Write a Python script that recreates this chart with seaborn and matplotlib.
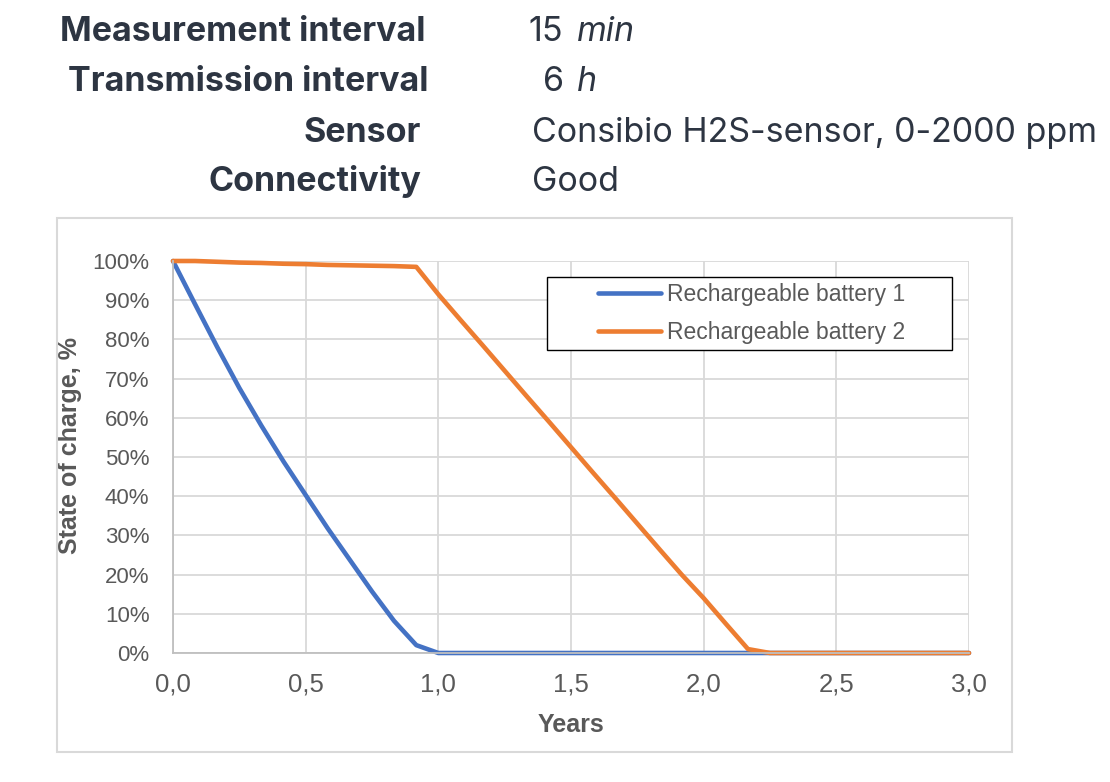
import numpy as np
import pandas as pd
import seaborn as sns
import matplotlib
matplotlib.use("Agg")
from matplotlib import pyplot as plt
from matplotlib.patches import Rectangle
from matplotlib.ticker import FuncFormatter, MultipleLocator

# header table
HEADER_LABELS = ["Measurement interval", "Transmission interval", "Sensor", "Connectivity"]
HEADER_VALUES = ["15", "6", "Consibio H2S-sensor, 0-2000 ppm", "Good"]
HEADER_UNITS = ["min", "h", "", ""]

# state of charge (%) against time (years)
YEARS_1 = [0.0, 0.083, 0.167, 0.25, 0.333, 0.417, 0.5, 0.583, 0.667, 0.75, 0.833, 0.917, 1.0,
           1.5, 2.0, 2.5, 3.0]
SOC_1 = [100, 89, 78, 67.6, 58, 48.8, 40.3, 31.8, 23.7, 15.7, 8.2, 2, 0,
         0, 0, 0, 0]

YEARS_2 = [0.0, 0.083, 0.167, 0.25, 0.333, 0.417, 0.5, 0.583, 0.667, 0.75, 0.833, 0.917,
           1.0, 1.083, 1.167, 1.25, 1.333, 1.417, 1.5, 1.583, 1.667, 1.75, 1.833, 1.917,
           2.0, 2.083, 2.167, 2.25, 2.5, 2.75, 3.0]
SOC_2 = [100, 100, 99.8, 99.6, 99.5, 99.3, 99.2, 99.0, 98.9, 98.8, 98.7, 98.5,
         91.5, 85, 78.5, 72, 65.5, 59, 52.5, 46, 39.5, 33, 26.5, 20,
         14, 7.5, 1, 0, 0, 0, 0]

SERIES = ["Rechargeable battery 1", "Rechargeable battery 2"]
COLORS = ["#4472C4", "#ED7D31"]

df = pd.concat([
    pd.DataFrame({"years": YEARS_1, "soc": SOC_1, "series": SERIES[0]}),
    pd.DataFrame({"years": YEARS_2, "soc": SOC_2, "series": SERIES[1]}),
])

sns.set_style("white")
plt.rcParams["font.family"] = ["Liberation Sans", "DejaVu Sans"]

W, H = 1110, 782
fig = plt.figure(figsize=(W / 100, H / 100), dpi=100)

# header block
HEAD_COLOR = "#2d3542"
HEAD_FONT = ["Inter", "DejaVu Sans"]
baselines = [41, 91, 142, 191]
label_right = [426, 429, 421, 421]
value_left = [528, 543, 532, 532]
for lab, val, unit, b, r, v in zip(HEADER_LABELS, HEADER_VALUES, HEADER_UNITS,
                                   baselines, label_right, value_left):
    y = 1 - b / H
    fig.text(r / W, y, lab, ha="right", va="baseline", fontsize=24.5,
             fontweight="bold", color=HEAD_COLOR, family=HEAD_FONT)
    fig.text(v / W, y, val, ha="left", va="baseline", fontsize=24.5,
             color=HEAD_COLOR, family=HEAD_FONT)
    if unit:
        fig.text(577 / W, y, unit, ha="left", va="baseline", fontsize=24.5,
                 style="italic", color=HEAD_COLOR, family=HEAD_FONT)

# chart border
fig.patches.append(Rectangle((57 / W, 1 - 752 / H), (1012 - 57) / W, (752 - 218) / H,
                             transform=fig.transFigure, fill=False,
                             edgecolor="#d9d9d9", linewidth=1.5))

ax = fig.add_axes([173 / W, 1 - 653 / H, (969 - 173) / W, (653 - 261) / H])
sns.lineplot(data=df, x="years", y="soc", hue="series", palette=COLORS,
             linewidth=3.3, ax=ax, clip_on=False, legend=False)

ax.set_xlim(0, 3)
ax.set_ylim(0, 100)
ax.xaxis.set_major_locator(MultipleLocator(0.5))
ax.yaxis.set_major_locator(MultipleLocator(10))
ax.xaxis.set_major_formatter(FuncFormatter(lambda v, p: f"{v:.1f}".replace(".", ",")))
ax.yaxis.set_major_formatter(FuncFormatter(lambda v, p: f"{v:.0f}%"))
ax.grid(True, color="#d9d9d9", linewidth=1.3)
ax.set_axisbelow(True)
for s in ["top", "right"]:
    ax.spines[s].set_visible(False)
for s in ["left", "bottom"]:
    ax.spines[s].set_color("#bfbfbf")
    ax.spines[s].set_linewidth(1.3)
ax.tick_params(axis="y", length=0, labelsize=16, colors="#595959", pad=17)
ax.tick_params(axis="x", length=0, labelsize=18.5, colors="#595959", pad=14)

ax.set_xlabel("Years", fontsize=18, fontweight="bold", color="#595959")
ax.xaxis.label.set(va="center")
ax.xaxis.set_label_coords(0.5, (653 - 725) / 392)
ax.set_ylabel("State of charge, %", fontsize=18, fontweight="bold", color="#595959")
ax.yaxis.label.set(va="center", ha="center", rotation_mode="default")
ax.yaxis.set_label_coords((70 - 173) / 796, (653 - 446) / 392)

# legend: Excel-style box drawn separately, entries without frame
handles = [plt.Line2D([], [], color=c, linewidth=3.3) for c in COLORS]
leg = fig.legend(handles, SERIES, loc="center left",
                 bbox_to_anchor=(598 / W, 1 - 313.5 / H), frameon=False,
                 fontsize=16.5, handlelength=2.75, handletextpad=0.28,
                 labelspacing=0.62, borderpad=0, borderaxespad=0)
for t in leg.get_texts():
    t.set_color("#595959")
fig.patches.append(Rectangle((547 / W, 1 - 350 / H), (952 - 547) / W, (350 - 277) / H,
                             transform=fig.transFigure, fill=True, facecolor="white",
                             edgecolor="black", linewidth=1.0, zorder=4))
leg.set_zorder(5)

fig.savefig("out.png", dpi=100)
